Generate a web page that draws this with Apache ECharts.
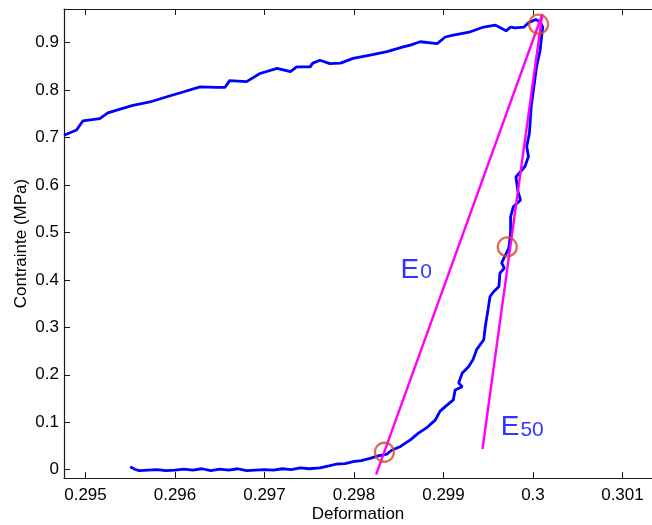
<!DOCTYPE html>
<html>
<head>
<meta charset="utf-8">
<script src="https://cdn.jsdelivr.net/npm/echarts@6/dist/echarts.min.js"></script>
<style>html,body{margin:0;padding:0;background:#fff;}#c{width:652px;height:525px;}</style>
</head>
<body>
<div id="c"></div>
<script>
// Axis ticks
const xTicks = [0.295, 0.296, 0.297, 0.298, 0.299, 0.300, 0.301];
const yTicks = [0, 0.1, 0.2, 0.3, 0.4, 0.5, 0.6, 0.7, 0.8, 0.9];
const xRange = [0.29476, 0.30133];
const yRange = [-0.0175, 0.971];

// Stress-strain curve (deformation, contrainte MPa)
const curveDeformation = [
  0.29550, 0.29555, 0.29560, 0.29570, 0.29580, 0.29590, 0.29600, 0.29610, 0.29620, 0.29630,
  0.29640, 0.29650, 0.29660, 0.29670, 0.29680, 0.29690, 0.29700, 0.29710, 0.29720, 0.29730,
  0.29740, 0.29750, 0.29762, 0.29772, 0.29781, 0.29790, 0.29799, 0.29808, 0.29818, 0.29827,
  0.29837, 0.29842, 0.29852, 0.29863, 0.29872, 0.29881, 0.29891, 0.29896, 0.29902, 0.29911,
  0.29913, 0.29921, 0.29917, 0.29921, 0.29928, 0.29933, 0.29937, 0.29945, 0.29947, 0.29950,
  0.29952, 0.29956, 0.29962, 0.29963, 0.29968, 0.29965, 0.29973, 0.29975, 0.29975, 0.29978,
  0.29986, 0.29983, 0.29981, 0.29986, 0.29991, 0.29995, 0.29993, 0.29996, 0.29998, 0.30001,
  0.30004, 0.30008, 0.30010, 0.30011, 0.30008, 0.30003, 0.29995, 0.29990, 0.29980, 0.29975,
  0.29970, 0.29958, 0.29945, 0.29930, 0.29911, 0.29902, 0.29893, 0.29874, 0.29863, 0.29855,
  0.29837, 0.29818, 0.29799, 0.29785, 0.29773, 0.29762, 0.29754, 0.29751, 0.29736, 0.29729,
  0.29714, 0.29695, 0.29680, 0.29661, 0.29656, 0.29647, 0.29628, 0.29609, 0.29591, 0.29572,
  0.29553, 0.29535, 0.29525, 0.29516, 0.29497, 0.29490, 0.29476
];
const curveContrainte = [
  0.006, 0.001, -0.002, -0.001, 0.000, -0.002, -0.001, 0.001, -0.001, 0.002,
  -0.002, 0.001, -0.001, 0.002, -0.002, -0.001, 0.000, -0.001, 0.002, 0.000,
  0.004, 0.002, 0.004, 0.008, 0.012, 0.013, 0.017, 0.019, 0.024, 0.029,
  0.033, 0.041, 0.049, 0.063, 0.077, 0.088, 0.105, 0.123, 0.133, 0.147,
  0.168, 0.175, 0.183, 0.204, 0.217, 0.232, 0.253, 0.274, 0.305, 0.340,
  0.365, 0.375, 0.386, 0.414, 0.425, 0.436, 0.467, 0.498, 0.533, 0.554,
  0.568, 0.589, 0.617, 0.628, 0.639, 0.660, 0.681, 0.709, 0.765, 0.807,
  0.849, 0.884, 0.919, 0.933, 0.944, 0.949, 0.942, 0.933, 0.931, 0.933,
  0.925, 0.937, 0.933, 0.923, 0.916, 0.912, 0.898, 0.902, 0.895, 0.891,
  0.881, 0.874, 0.867, 0.857, 0.856, 0.863, 0.857, 0.849, 0.849, 0.839,
  0.846, 0.835, 0.818, 0.820, 0.806, 0.806, 0.807, 0.796, 0.786, 0.775,
  0.768, 0.758, 0.752, 0.740, 0.735, 0.716, 0.705
];

// Tangent / secant modulus lines
const lineE0 = [[0.298247, -0.0105], [0.300104, 0.960]];
const lineE50 = [[0.299436, 0.0436], [0.300104, 0.960]];

// Marked points (circles)
const circlePoints = [[0.29834, 0.0368], [0.299713, 0.4695], [0.300063, 0.939]];

// Annotations
const annotations = [
  { name: 'E0', main: 'E', sub: '0', pos: [0.298521, 0.3916] },
  { name: 'E50', main: 'E', sub: '50', pos: [0.299640, 0.0589] }
];

const FONT = '"Liberation Sans", Arial, Helvetica, sans-serif';
const axisColor = '#1a1a1a';
const fmt = v => String(parseFloat(Number(v).toFixed(4)));

const curveData = curveDeformation.map((x, i) => [x, curveContrainte[i]]);

const chart = echarts.init(document.getElementById('c'), null, { renderer: 'canvas' });
chart.setOption({
  animation: false,
  backgroundColor: '#ffffff',
  grid: { left: 64, top: 9, right: 0, bottom: 47, containLabel: false, outerBoundsMode: 'none' },
  xAxis: [{
    type: 'value', min: xRange[0], max: xRange[1], position: 'bottom',
    name: 'Deformation', nameLocation: 'middle', nameGap: 28, nameMoveOverlap: false,
    nameTextStyle: { fontFamily: FONT, fontSize: 17, color: '#000' },
    axisLine: { show: true, onZero: false, lineStyle: { color: axisColor, width: 1.2 } },
    axisTick: { show: true, inside: true, length: 6, customValues: xTicks, lineStyle: { color: axisColor } },
    axisLabel: { show: true, customValues: xTicks, formatter: fmt, margin: 9, fontFamily: FONT, fontSize: 17, color: '#000' },
    splitLine: { show: false }
  }, {
    type: 'value', min: xRange[0], max: xRange[1], position: 'top',
    axisLine: { show: true, onZero: false, lineStyle: { color: axisColor, width: 1.2 } },
    axisTick: { show: true, inside: true, length: 6, customValues: xTicks, lineStyle: { color: axisColor } },
    axisLabel: { show: false },
    splitLine: { show: false }
  }],
  yAxis: [{
    type: 'value', min: yRange[0], max: yRange[1],
    name: 'Contrainte (MPa)', nameLocation: 'middle', nameGap: 34, nameRotate: 90, nameMoveOverlap: false,
    nameTextStyle: { fontFamily: FONT, fontSize: 17, color: '#000' },
    axisLine: { show: true, onZero: false, lineStyle: { color: axisColor, width: 1.2 } },
    axisTick: { show: true, inside: true, length: 6, customValues: yTicks, lineStyle: { color: axisColor } },
    axisLabel: { show: true, customValues: yTicks, formatter: fmt, margin: 5, fontFamily: FONT, fontSize: 17, color: '#000' },
    splitLine: { show: false }
  }],
  series: [
    {
      name: 'courbe', type: 'line', data: curveData, showSymbol: false, symbol: 'none',
      lineStyle: { color: '#0000ff', width: 2.8 }, z: 2, clip: true
    },
    {
      name: 'E0', type: 'line', data: lineE0, showSymbol: false, symbol: 'none',
      lineStyle: { color: '#ff00ff', width: 2.4 }, z: 3
    },
    {
      name: 'E50', type: 'line', data: lineE50, showSymbol: false, symbol: 'none',
      lineStyle: { color: '#ff00ff', width: 2.4 }, z: 3
    },
    {
      name: 'points', type: 'scatter', data: circlePoints, symbol: 'circle', symbolSize: 19,
      itemStyle: { color: 'rgba(0,0,0,0)', borderColor: '#d4482a', borderWidth: 2.3 }, z: 4
    },
    {
      name: 'labels', type: 'scatter', symbolSize: 0, z: 5,
      data: annotations.map(a => ({ value: a.pos, name: a.name,
        label: { formatter: '{m|' + a.main + '}{s|' + a.sub + '}' } })),
      label: {
        show: true, position: [0, 0], align: 'left', verticalAlign: 'bottom',
        rich: {
          m: { fontFamily: FONT, fontSize: 28, color: '#0000ff', verticalAlign: 'bottom', lineHeight: 32 },
          s: { fontFamily: FONT, fontSize: 21, color: '#0000ff', verticalAlign: 'bottom', lineHeight: 32, padding: [0, 0, 1, 1] }
        }
      }
    }
  ]
});
</script>
</body>
</html>
